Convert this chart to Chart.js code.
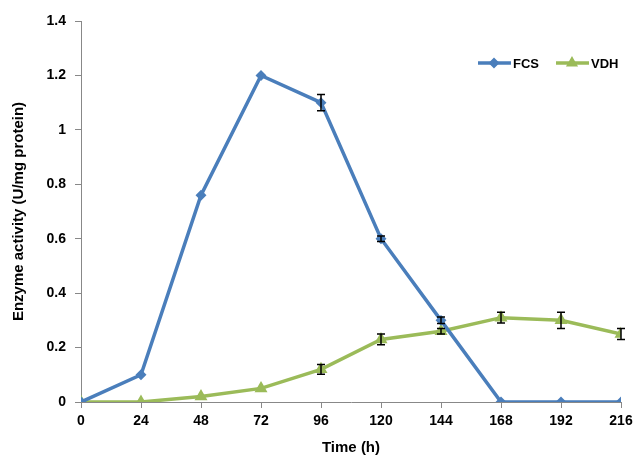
<!DOCTYPE html>
<html>
<head>
<meta charset="utf-8">
<script src="https://cdn.jsdelivr.net/npm/chart.js@4"></script>
<style>
  html, body { margin: 0; padding: 0; background: #fff; }
  #wrap { width: 633px; height: 461px; }
</style>
</head>
<body>
<div id="wrap"><canvas id="grafico"></canvas></div>
<script>
// datos
const tiempos = [0, 24, 48, 72, 96, 120, 144, 168, 192, 216];
const fcs = [0, 0.1, 0.76, 1.2, 1.1, 0.6, 0.3, 0, 0, 0];
const fcsError = [0, 0, 0, 0, 0.03, 0.01, 0.012, 0, 0, 0];
const vdh = [0, 0, 0.02, 0.05, 0.12, 0.23, 0.26, 0.31, 0.30, 0.25];
const vdhError = [0, 0, 0, 0, 0.018, 0.02, 0.01, 0.02, 0.03, 0.02];
const etiquetasY = ['0', '0.2', '0.4', '0.6', '0.8', '1', '1.2', '1.4'];

const azul = '#4A7EBB';
const verde = '#9BBB59';
const fuente = "'Liberation Sans', Arial, sans-serif";

// barras de error dibujadas con las escalas del grafico
const barrasError = {
  id: 'barrasError',
  afterDatasetsDraw(chart) {
    const ctx = chart.ctx;
    const x = chart.scales.x, y = chart.scales.y;
    const series = [[fcs, fcsError], [vdh, vdhError]];
    ctx.save();
    ctx.strokeStyle = '#000';
    ctx.lineWidth = 1.5;
    series.forEach(([vals, errs]) => {
      vals.forEach((v, i) => {
        if (!errs[i]) return;
        const px = x.getPixelForValue(tiempos[i]);
        const top = y.getPixelForValue(v + errs[i]);
        const bot = y.getPixelForValue(v - errs[i]);
        ctx.beginPath();
        ctx.moveTo(px, top); ctx.lineTo(px, bot);
        ctx.moveTo(px - 4, top); ctx.lineTo(px + 4, top);
        ctx.moveTo(px - 4, bot); ctx.lineTo(px + 4, bot);
        ctx.stroke();
      });
    });
    ctx.restore();
  }
};

// leyenda arriba a la derecha
const leyenda = {
  id: 'leyenda',
  afterDraw(chart) {
    const ctx = chart.ctx;
    const items = [['FCS', azul, 'rectRot', 3], ['VDH', verde, 'triangle', 3.5]];
    let xPos = 478;
    const yPos = 63;
    ctx.save();
    ctx.font = 'bold 13px ' + fuente;
    ctx.textBaseline = 'middle';
    items.forEach(([txt, col, estilo, r]) => {
      ctx.strokeStyle = col;
      ctx.fillStyle = col;
      ctx.lineWidth = 3.5;
      ctx.beginPath();
      ctx.moveTo(xPos, yPos); ctx.lineTo(xPos + 33, yPos);
      ctx.stroke();
      Chart.helpers.drawPoint(ctx, { pointStyle: estilo, radius: r, borderWidth: 1 }, xPos + 16, yPos);
      ctx.fillStyle = '#000';
      ctx.fillText(txt, xPos + 35, yPos + 1);
      xPos += 78;
    });
    ctx.restore();
  }
};

const ctx = document.getElementById('grafico').getContext('2d');
const grafico = new Chart(ctx, {
  type: 'line',
  data: {
    datasets: [{
      label: 'FCS',
      data: tiempos.map((t, i) => ({ x: t, y: fcs[i] })),
      borderColor: azul,
      backgroundColor: azul,
      borderWidth: 3.5,
      pointStyle: 'rectRot',
      pointRadius: 3,
      tension: 0
    }, {
      label: 'VDH',
      data: tiempos.map((t, i) => ({ x: t, y: vdh[i] })),
      borderColor: verde,
      backgroundColor: verde,
      borderWidth: 3.5,
      pointStyle: 'triangle',
      pointRadius: 4,
      tension: 0
    }]
  },
  options: {
    responsive: true,
    maintainAspectRatio: false,
    animation: false,
    layout: { padding: { top: 21, right: 12, left: 6, bottom: 0 } },
    plugins: { legend: { display: false }, tooltip: { enabled: false } },
    scales: {
      x: {
        type: 'linear',
        min: 0, max: 216,
        afterFit(s) { s.height = 59; s.paddingLeft = 0; s.paddingRight = 0; },
        ticks: { stepSize: 24, color: '#000', font: { family: fuente, size: 14, weight: 'bold' }, padding: 5, maxRotation: 0 },
        grid: { drawOnChartArea: false, tickLength: 6, color: '#888' },
        border: { color: '#888', width: 1 },
        title: { display: true, text: 'Time (h)', color: '#000', font: { family: fuente, size: 15, weight: 'bold' }, padding: { top: 3 } }
      },
      y: {
        min: 0, max: 1.4,
        afterFit(s) { s.width = 75; s.paddingTop = 0; s.paddingBottom = 0; },
        ticks: {
          stepSize: 0.2, color: '#000', font: { family: fuente, size: 14, weight: 'bold' }, padding: 9,
          callback: (v, i) => etiquetasY[i]
        },
        grid: { drawOnChartArea: false, tickLength: 6, color: '#888' },
        border: { color: '#888', width: 1 },
        title: { display: true, text: 'Enzyme activity (U/mg protein)', color: '#000', font: { family: fuente, size: 15, weight: 'bold' }, padding: { top: 4, bottom: 0 } }
      }
    }
  },
  plugins: [barrasError, leyenda]
});
</script>
</body>
</html>
